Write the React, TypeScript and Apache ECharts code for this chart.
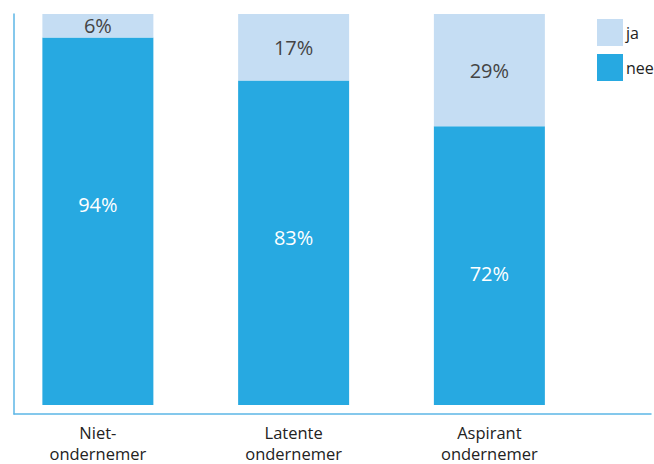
import React, { useEffect, useRef } from "react";
import * as echarts from "echarts";

const categories = ["Niet-\nondernemer", "Latente\nondernemer", "Aspirant\nondernemer"];
const neeValues = [94, 83, 72];
const jaValues = [6, 17, 29];

// label placement tweaks (style only)
const neeLabelShift = [-17, -5, 8];

const FONT = "'Open Sans', sans-serif";

export default function App() {
  const ref = useRef<HTMLDivElement>(null);
  useEffect(() => {
    if (!ref.current) return;
    const chart = echarts.init(ref.current, undefined, { renderer: "svg" });
    const totals = neeValues.map((v, i) => v + jaValues[i]);
    const neeShare = neeValues.map((v, i) => ({
      value: (v / totals[i]) * 100,
      raw: v,
      label: { offset: [0, neeLabelShift[i]] },
    }));
    const jaShare = jaValues.map((v, i) => ({ value: (v / totals[i]) * 100, raw: v }));
    chart.setOption({
      animation: false,
      textStyle: { fontFamily: FONT },
      legend: {
        orient: "vertical",
        left: 592,
        top: 14,
        itemWidth: 26,
        itemHeight: 27,
        itemGap: 8,
        icon: "rect",
        data: ["ja", "nee"],
        textStyle: { fontFamily: FONT, fontSize: 16, color: "#222", padding: [0, 0, 0, -2] },
      },
      grid: [
        { left: -5.25, width: 592.5, top: 14, height: 400 },
        { left: 14, right: 3, top: 14, height: 400 },
      ],
      xAxis: [
        {
          type: "category",
          gridIndex: 0,
          data: categories,
          axisLine: { show: false },
          axisTick: { show: false },
          axisLabel: {
            fontFamily: FONT,
            fontSize: 16.5,
            color: "#222",
            lineHeight: 21,
            margin: 17,
          },
        },
        {
          type: "value",
          gridIndex: 1,
          min: 0,
          max: 1,
          axisLine: { show: true, lineStyle: { color: "#5cb6e6", width: 1.5 } },
          axisTick: { show: false },
          axisLabel: { show: false },
          splitLine: { show: false },
        },
      ],
      yAxis: [
        { type: "value", gridIndex: 0, min: 0, max: 100, show: false },
        {
          type: "value",
          gridIndex: 1,
          min: 0,
          max: 1,
          axisLine: { show: true, lineStyle: { color: "#5cb6e6", width: 1.5 } },
          axisTick: { show: false },
          axisLabel: { show: false },
          splitLine: { show: false },
        },
      ],
      series: [
        {
          name: "nee",
          type: "bar",
          stack: "total",
          barWidth: 111,
          data: neeShare,
          itemStyle: { color: "#27a9e1" },
          label: {
            show: true,
            position: "inside",
            formatter: (p: any) => p.data.raw + "%",
            color: "#fff",
            fontFamily: FONT,
            fontSize: 20,
          },
        },
        {
          name: "ja",
          type: "bar",
          stack: "total",
          barWidth: 111,
          data: jaShare,
          itemStyle: { color: "#c5ddf3" },
          label: {
            show: true,
            position: "inside",
            formatter: (p: any) => p.data.raw + "%",
            color: "#444",
            fontFamily: FONT,
            fontSize: 20,
          },
        },
      ],
    });
    return () => chart.dispose();
  }, []);
  return <div ref={ref} style={{ width: 654, height: 464, position: "absolute", left: 0, top: 0 }} />;
}
